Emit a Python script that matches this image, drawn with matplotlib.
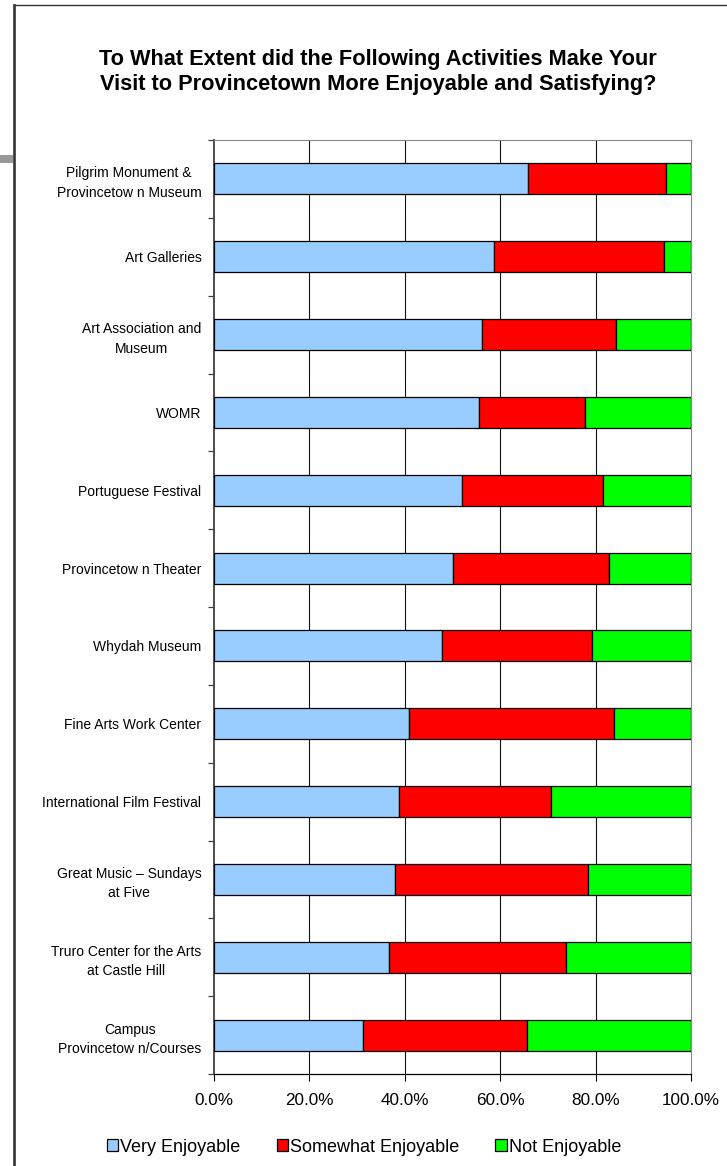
import matplotlib
matplotlib.use("Agg")
import matplotlib.pyplot as plt
from matplotlib.patches import Patch, Rectangle
from matplotlib.lines import Line2D
import numpy as np

plt.rcParams['font.family'] = ['Liberation Sans', 'DejaVu Sans']

categories = [
    "Pilgrim Monument &\nProvincetow n Museum",
    "Art Galleries",
    "Art Association and\nMuseum",
    "WOMR",
    "Portuguese Festival",
    "Provincetow n Theater",
    "Whydah Museum",
    "Fine Arts Work Center",
    "International Film Festival",
    "Great Music \u2013 Sundays\nat Five",
    "Truro Center for the Arts\nat Castle Hill",
    "Campus\nProvincetow n/Courses",
]
very = [65.9, 58.7, 56.1, 55.6, 52.0, 50.1, 47.9, 40.8, 38.8, 37.9, 36.7, 31.2]
somewhat = [28.8, 35.7, 28.2, 22.2, 29.5, 32.7, 31.3, 43.1, 31.8, 40.6, 37.0, 34.4]
notenj = [5.3, 5.6, 15.7, 22.2, 18.5, 17.2, 20.8, 16.1, 29.4, 21.5, 26.3, 34.4]
series_names = ["Very Enjoyable", "Somewhat Enjoyable", "Not Enjoyable"]
colors = ["#99CCFF", "#FF0000", "#00FF00"]
xticks = [0, 20, 40, 60, 80, 100]
xticklabels = ["0.0%", "20.0%", "40.0%", "60.0%", "80.0%", "100.0%"]
title = ("To What Extent did the Following Activities Make Your\n"
         "Visit to Provincetown More Enjoyable and Satisfying?")

W, H = 727, 1166
fig = plt.figure(figsize=(W / 100, H / 100), dpi=100)
fig.patch.set_facecolor("white")

px = lambda v: v / W
py = lambda v: 1 - v / H

# outer frame and artifact
fig.add_artist(Line2D([px(14), 1.0], [py(5), py(5)], color="#333333", lw=1.0))
fig.add_artist(Line2D([px(14), px(14)], [py(5), 0.0], color="#333333", lw=1.9))
fig.add_artist(Rectangle((0, py(163)), px(13), (163 - 155) / H, color="#999999", lw=0))

left, right, top, bottom = 214, 691, 140, 1074
ax = fig.add_axes([px(left), py(bottom), px(right) - px(left), (bottom - top) / H])

n = len(categories)
y = np.arange(n)
v = np.array(very)
s = np.array(somewhat)
nn = np.array(notenj)
tot = v + s + nn
vp, sp, np_ = v / tot * 100, s / tot * 100, nn / tot * 100

bh = 0.4
ax.barh(y, vp, height=bh, color=colors[0], edgecolor="black", lw=0.9, zorder=3)
ax.barh(y, sp, left=vp, height=bh, color=colors[1], edgecolor="black", lw=0.9, zorder=3)
ax.barh(y, np_, left=vp + sp, height=bh, color=colors[2], edgecolor="black", lw=0.9, zorder=3)

ax.set_xlim(0, 100)
ax.set_ylim(n - 0.5, -0.5)

for xv in xticks[1:-1]:
    ax.axvline(xv, color="#111111", lw=0.8, zorder=1)

ax.set_xticks(xticks)
ax.set_xticklabels(xticklabels, fontsize=12.3)
ax.tick_params(axis="x", direction="out", length=5, width=0.8, color="black", pad=8.5)

ax.set_yticks(y)
ax.set_yticklabels(categories, fontsize=10, linespacing=1.5, multialignment="center")
ax.tick_params(axis="y", which="major", length=0, pad=9)
ax.set_yticks(np.arange(-0.5, n, 1.0), minor=True)
ax.tick_params(axis="y", which="minor", direction="out", length=4, width=0.9, color="#404040")

ax.spines["top"].set_color("#888888")
ax.spines["right"].set_color("#888888")
ax.spines["top"].set_linewidth(0.8)
ax.spines["right"].set_linewidth(0.8)
ax.spines["left"].set_color("#404040")
ax.spines["left"].set_linewidth(1.3)
ax.spines["bottom"].set_color("black")
ax.spines["bottom"].set_linewidth(0.9)

fig.text(px(378), py(72), title, ha="center", va="center", fontsize=15.7,
         fontweight="bold", linespacing=1.2)

handles = [Patch(facecolor=c, edgecolor="black", lw=0.9) for c in colors]
fig.legend(handles, series_names, loc="center", bbox_to_anchor=(px(364), py(1147)),
           ncol=3, frameon=False, fontsize=13, handlelength=0.65, handleheight=0.65,
           handletextpad=0.1, columnspacing=2.0, borderaxespad=0)

fig.savefig("out.png", dpi=100, facecolor="white")
